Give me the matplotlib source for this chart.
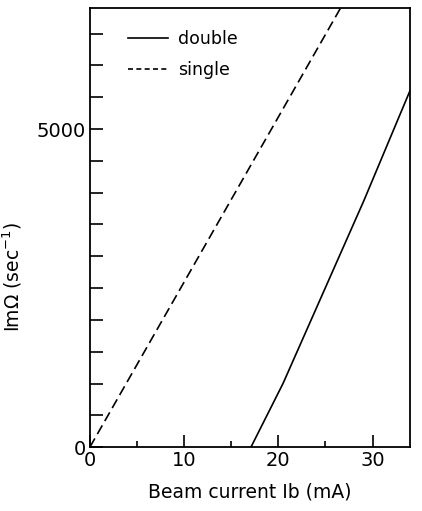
import matplotlib.pyplot as plt
from matplotlib.ticker import MultipleLocator, FixedLocator
from matplotlib.lines import Line2D

# beam current (mA) vs growth rate Im(Omega) (1/sec)
single_ib = [0.0, 26.6]
single_rate = [0.0, 6900.0]

double_ib = [17.1, 20.5, 29.1, 34.0]
double_rate = [0.0, 1000.0, 3880.0, 5610.0]

x_major = [0, 10, 20, 30]
x_minor = [5, 15, 25]
y_labels = {0: '0', 5000: '5000'}

fig = plt.figure(figsize=(4.22, 5.11), dpi=100)
ax = fig.add_axes([0.213, 0.125, 0.759, 0.859])

ax.plot(double_ib, double_rate, color='black', lw=1.2, solid_capstyle='butt')
ax.plot(single_ib, single_rate, color='black', lw=1.2, ls=(0, (6, 3)))

ax.set_xlim(0, 34)
ax.set_ylim(0, 6900)

ax.xaxis.set_major_locator(FixedLocator(x_major))
ax.xaxis.set_minor_locator(FixedLocator(x_minor))
ax.yaxis.set_major_locator(MultipleLocator(500))
ax.set_yticklabels([y_labels.get(int(t), '') for t in ax.get_yticks()])

ax.tick_params(which='major', axis='x', direction='in', length=9, width=1.2, labelsize=14, pad=3)
ax.tick_params(which='minor', axis='x', direction='in', length=4, width=1.2)
ax.tick_params(axis='y', direction='in', length=9, width=1.2, labelsize=14, pad=3)
for s in ax.spines.values():
    s.set_linewidth(1.3)

ax.set_xlabel('Beam current Ib (mA)', fontsize=13.5, labelpad=9)
ax.set_ylabel('ImΩ (sec$^{-1}$)', fontsize=13.5)
ax.yaxis.set_label_coords(-0.205, 0.387)

handles = [Line2D([], [], color='black', lw=1.2),
           Line2D([], [], color='black', lw=1.2, ls=(0, (3, 2)))]
ax.legend(handles, ['double', 'single'], loc='upper left', frameon=False,
          fontsize=12.5, handlelength=2.3, handletextpad=0.6,
          bbox_to_anchor=(0.07, 0.985), labelspacing=0.75)

fig.savefig('out.png', dpi=100)
